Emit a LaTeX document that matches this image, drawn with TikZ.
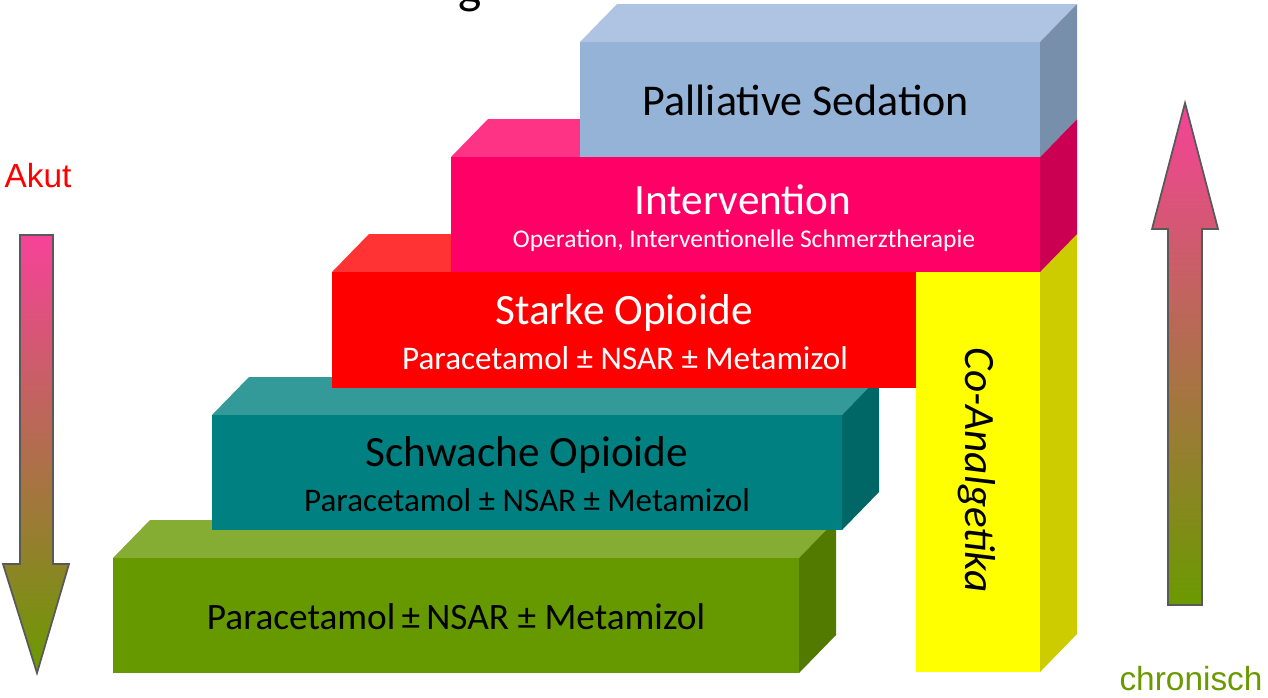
\documentclass[tikz,border=0pt]{standalone}
\usepackage{fontspec}
\setmainfont{Carlito}
\newfontfamily\arialfont{Liberation Sans}
\usepackage{tikz}

\definecolor{blau}{RGB}{149,179,215}
\definecolor{blautop}{RGB}{175,196,226}
\definecolor{blauside}{RGB}{120,143,172}
\definecolor{rosa}{RGB}{255,0,102}
\definecolor{rosatop}{RGB}{255,51,133}
\definecolor{rosaside}{RGB}{204,0,82}
\definecolor{rot}{RGB}{255,0,0}
\definecolor{rottop}{RGB}{255,51,51}
\definecolor{rotside}{RGB}{204,0,0}
\definecolor{gelb}{RGB}{255,255,0}
\definecolor{gelbtop}{RGB}{255,255,102}
\definecolor{gelbside}{RGB}{204,204,0}
\definecolor{petrol}{RGB}{0,128,128}
\definecolor{petroltop}{RGB}{51,153,153}
\definecolor{petrolside}{RGB}{0,102,102}
\definecolor{gruen}{RGB}{102,153,0}
\definecolor{gruentop}{RGB}{133,173,51}
\definecolor{gruenside}{RGB}{82,122,0}
\definecolor{pfeilpink}{RGB}{247,66,153}
\definecolor{pfeilmitte}{RGB}{220,120,114}
\definecolor{pfeilgruen}{RGB}{106,154,0}

\begin{document}
\begin{tikzpicture}[x=0.01cm,y=-0.01cm,
    stufe/.style={font=\fontsize{12.3}{14}\selectfont},
    unter/.style={font=\fontsize{9.4}{11}\selectfont},
    pfeil/.style={top color=pfeilpink, middle color=pfeilmitte, bottom color=pfeilgruen, draw=black!65, line width=0.5pt}]
  \useasboundingbox (0,0) rectangle (1268,697);
  % title cut off at the top
  \node[anchor=base, inner sep=0pt, font=\fontsize{14}{16}\selectfont] (titel) at (470,3) {g};
  % blocks, back to front: x1/y1/x2/y2/colour
  \foreach \xa/\ya/\xb/\yb/\c in {113/558/799/673/gruen, 212/415/842/530/petrol,
      332/272/917/388/rot, 916/272/1040/672/gelb, 451/157/1040/272/rosa, 580/42/1040/157/blau} {
    \fill[\c top] (\xa,\ya) -- ++(37,-38) -- (\xb+37,\ya-38) -- (\xb,\ya) -- cycle;
    \fill[\c side] (\xb,\ya) -- (\xb+37,\ya-38) -- (\xb+37,\yb-38) -- (\xb,\yb) -- cycle;
    \fill[\c] (\xa,\ya) rectangle (\xb,\yb);
  }
  % labels
  \node[stufe, font=\fontsize{12.5}{14}\selectfont] (sedation) at (806,100) {Palliative Sedation};
  \node[stufe, white] (intervention) at (743,200) {Intervention};
  \node[white, font=\fontsize{7.25}{8}\selectfont] (operation) at (744,241) {Operation, Interventionelle Schmerztherapie};
  \node[stufe, white] (stark) at (624,313) {Starke Opioide};
  \node[unter, white] (starkmed) at (625,358) {Paracetamol ± NSAR ± Metamizol};
  \node[stufe] (schwach) at (527,455) {Schwache Opioide};
  \node[unter] (schwachmed) at (527,500) {Paracetamol ± NSAR ± Metamizol};
  \node[font=\fontsize{10.6}{12}\selectfont] (basis) at (456,617) {Paracetamol\,±\,NSAR ± Metamizol};
  \node[stufe, rotate=-90, font=\fontsize{12.3}{14}\selectfont\itshape] (co) at (977,470) {Co-Analgetika};
  % arrows
  \shadedraw[pfeil] (20,235) -- (53,235) -- (53,564) -- (69,564) -- (37,673) -- (3,564) -- (20,564) -- cycle;
  \shadedraw[pfeil] (1168,605) -- (1168,229) -- (1152,229) -- (1185,103) -- (1218,229) -- (1202,229) -- (1202,605) -- cycle;
  \node[red, font=\arialfont\fontsize{9.5}{11}\selectfont] (akut) at (38,176) {Akut};
  \node[pfeilgruen, font=\arialfont\fontsize{9.5}{11}\selectfont] (chronisch) at (1191,679) {chronisch};
\end{tikzpicture}
\end{document}
